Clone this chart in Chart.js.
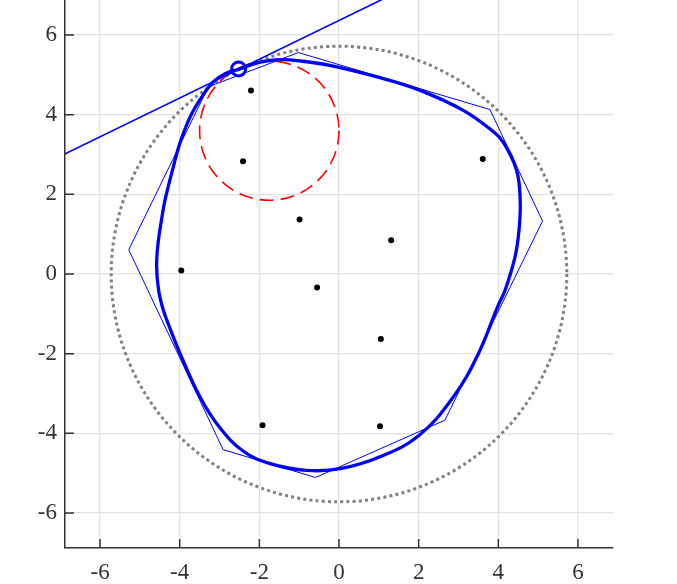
<!DOCTYPE html>
<html>
<head>
<meta charset="utf-8">
<script src="https://cdn.jsdelivr.net/npm/chart.js@4.4.1/dist/chart.umd.min.js"></script>
<style>
  html, body { margin: 0; padding: 0; background: #fff; }
  #wrap { width: 677px; height: 584px; }
</style>
</head>
<body>
<div id="wrap"><canvas id="chart"></canvas></div>
<script>
// axis ticks (both axes)
const tickValues = [-6, -4, -2, 0, 2, 4, 6];
const axisMin = -6.88;
const axisMax = 6.88;

// smooth closed curve (clockwise from the marked point)
const curveX = [-2.52, -1.98, -1.48, -0.98, -0.23, 1.03, 1.99, 3.12, 3.88, 4.13, 4.46, 4.55, 4.52, 4.42, 4.17, 4.0, 3.5, 2.87, 2.0, 1.03, 0.03, -0.81, -1.73, -2.4, -3.0, -3.49, -3.99, -4.25, -4.41, -4.53, -4.58, -4.54, -4.45, -4.37, -4.16, -3.99, -3.74, -3.45, -3.16, -2.86, -2.52];
const curveY = [5.14, 5.32, 5.38, 5.35, 5.24, 4.93, 4.63, 4.11, 3.57, 3.3, 2.6, 1.85, 1.1, 0.43, -0.41, -0.78, -2.0, -3.09, -4.06, -4.59, -4.89, -4.93, -4.76, -4.45, -3.85, -3.09, -2.0, -1.35, -0.91, -0.4, 0.2, 0.8, 1.4, 1.85, 2.69, 3.3, 3.94, 4.44, 4.82, 5.03, 5.14];

// thin control polygon (closed)
const polyX = [-5.28, -3.28, -1.02, 3.79, 5.11, 2.66, -0.59, -2.91, -5.28];
const polyY = [0.61, 4.7, 5.56, 4.13, 1.33, -3.67, -5.11, -4.41, 0.61];

// black sample points
const dotsX = [-2.21, -2.41, -0.99, -3.96, -0.55, 3.61, 1.31, 1.05, 1.03, -1.92];
const dotsY = [4.61, 2.83, 1.37, 0.09, -0.34, 2.89, 0.85, -1.63, -3.82, -3.8];

// tangent line and marked point
const tangentX = [-7.0, 2.0];
const tangentY = [2.96, 7.34];
const markerX = [-2.52];
const markerY = [5.15];

// circles: outer dotted, inner dashed
const circleCx = [0, -1.75];
const circleCy = [0, 3.6];
const circleR = [5.72, 1.75];
const circleColor = ['#808080', '#ff0000'];
const circleDash = [[3, 3.2], [14, 7]];
const circleWidth = [3, 1.6];

const zip = (xs, ys) => xs.map((v, i) => ({ x: v, y: ys[i] }));

const circlePlugin = {
  id: 'circles',
  beforeDatasetsDraw(chart) {
    const { ctx, chartArea, scales: { x, y } } = chart;
    ctx.save();
    ctx.beginPath();
    ctx.rect(chartArea.left, chartArea.top, chartArea.width, chartArea.height);
    ctx.clip();
    circleR.forEach((r, i) => {
      const px = x.getPixelForValue(circleCx[i]);
      const py = y.getPixelForValue(circleCy[i]);
      const pr = x.getPixelForValue(circleCx[i] + r) - px;
      ctx.beginPath();
      ctx.arc(px, py, pr, 0, Math.PI * 2);
      ctx.strokeStyle = circleColor[i];
      ctx.lineWidth = circleWidth[i];
      ctx.setLineDash(circleDash[i]);
      ctx.stroke();
    });
    ctx.restore();
  }
};

// ticks point inward
const innerTicks = {
  id: 'innerTicks',
  afterDraw(chart) {
    const { ctx, chartArea, scales: { x, y } } = chart;
    ctx.save();
    ctx.strokeStyle = '#333';
    ctx.lineWidth = 1.5;
    tickValues.forEach(v => {
      const px = x.getPixelForValue(v);
      const py = y.getPixelForValue(v);
      ctx.beginPath();
      ctx.moveTo(px, chartArea.bottom);
      ctx.lineTo(px, chartArea.bottom - 9);
      ctx.moveTo(chartArea.left, py);
      ctx.lineTo(chartArea.left + 9, py);
      ctx.stroke();
    });
    ctx.restore();
  }
};

const font = { family: 'Liberation Serif', size: 23 };

const axis = (isX) => ({
  type: 'linear',
  min: axisMin,
  max: axisMax,
  grid: { color: '#e2e2e2', lineWidth: 1.3, drawTicks: false },
  border: { color: '#333', width: 1.5 },
  ticks: { font: font, color: '#333', padding: isX ? 11 : 8 },
  afterBuildTicks: (s) => { s.ticks = tickValues.map(v => ({ value: v })); },
  afterFit: (s) => {
    if (isX) s.height = 36; else s.width = 65;
    s.paddingTop = 0; s.paddingBottom = 0; s.paddingLeft = 0; s.paddingRight = 0;
  }
});

new Chart(document.getElementById('chart'), {
  type: 'scatter',
  data: {
    datasets: [
      { data: zip(dotsX, dotsY), pointRadius: 3, backgroundColor: '#000', borderWidth: 0 },
      { data: zip(markerX, markerY), pointRadius: 7, borderWidth: 3, borderColor: '#0000ff', backgroundColor: 'rgba(0,0,0,0)' },
      { data: zip(tangentX, tangentY), showLine: true, pointRadius: 0, borderColor: '#0000ff', borderWidth: 1.6, clip: 0 },
      { data: zip(curveX, curveY), showLine: true, pointRadius: 0, borderColor: '#0000ff', borderWidth: 3.3, tension: 0.4 },
      { data: zip(polyX, polyY), showLine: true, pointRadius: 0, borderColor: '#0000ff', borderWidth: 1 }
    ]
  },
  options: {
    responsive: true,
    maintainAspectRatio: false,
    animation: false,
    layout: { autoPadding: false, padding: { left: 0, right: 64, top: 0, bottom: 0 } },
    plugins: { legend: { display: false }, tooltip: { enabled: false } },
    scales: { x: axis(true), y: axis(false) }
  },
  plugins: [circlePlugin, innerTicks]
});
</script>
</body>
</html>
